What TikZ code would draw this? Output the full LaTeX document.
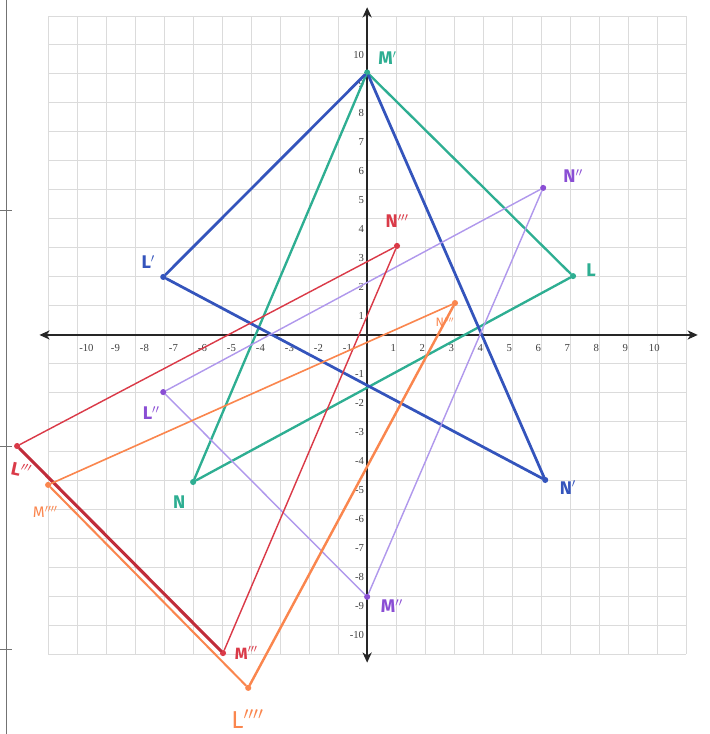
\documentclass[tikz,border=0pt]{standalone}
\usepackage{fontspec}
\setmainfont{Liberation Serif}
\setsansfont{Fira Sans}
\usepackage{tikz}
\usetikzlibrary{arrows.meta,positioning}
\definecolor{tealT}{RGB}{46,174,146}
\definecolor{blueT}{RGB}{52,84,188}
\definecolor{lilacT}{RGB}{176,152,236}
\definecolor{violetT}{RGB}{138,78,212}
\definecolor{redT}{RGB}{218,58,72}
\definecolor{darkredT}{RGB}{192,44,58}
\definecolor{orangeT}{RGB}{250,134,78}

\begin{document}
\begin{tikzpicture}[
    grd/.style={black!14,line width=0.9pt},
    ax/.style={black!85,line width=1.3pt,{Stealth[length=10pt,width=9pt,inset=3pt]}-{Stealth[length=10pt,width=9pt,inset=3pt]}},
    tck/.style={font=\fontsize{10.5}{10.5}\selectfont,text=black!75,inner sep=0pt},
    pt/.style={circle,fill=#1,minimum size=6pt,inner sep=0pt},
    lbl/.style={font=\sffamily\bfseries\fontsize{18}{18}\selectfont,text=#1,inner sep=0pt,on grid},
    tri/.style={line width=#1,line cap=round}]
\useasboundingbox (-12.66,-13.76) rectangle (11.79,11.55);
% graph paper
\draw[grd] (-11,-11) grid (11,11);
% page edge of the scan
\draw[black!55,line width=0.8pt] (-12.45,11.55) -- (-12.45,-13.76);
\foreach \y in {4.31,-3.86,-10.86}
  \draw[black!55,line width=0.8pt] (-12.66,\y) -- (-12.25,\y);
% axes
\coordinate (xl) at (-11.3,0);
\coordinate (xr) at (11.4,0);
\coordinate (yb) at (0,-11.3);
\coordinate (yt) at (0,11.3);
\draw[ax] (xl) -- (xr);
\draw[ax] (yb) -- (yt);
% tick labels
\foreach \i in {1,...,10} {
  \node[tck] (xp\i) at (\i-0.1,-0.45) {\i};
  \node[tck] (xn\i) at (-\i+0.32,-0.45) {-\i};
  \node[tck,anchor=east] (yp\i) at (-0.1,\i-0.35) {\i};
  \node[tck,anchor=east] (yn\i) at (-0.1,-\i-0.35) {-\i};
}
% vertices
\node[pt=tealT]   (M1) at (0,9.05) {};
\node[pt=blueT]   (L1) at (-7.03,2.0) {};
\node[pt=blueT]   (N1) at (6.14,-5.0) {};
\node[pt=tealT]   (L0) at (7.1,2.03) {};
\node[pt=tealT]   (N0) at (-6.0,-5.07) {};
\node[pt=violetT] (N2) at (6.07,5.07) {};
\node[pt=violetT] (M2) at (0,-9.03) {};
\node[pt=violetT] (L2) at (-7.03,-1.97) {};
\node[pt=redT]    (N3) at (1.03,3.07) {};
\node[pt=redT]    (M3) at (-4.97,-10.97) {};
\node[pt=redT]    (L3) at (-12.07,-3.83) {};
\node[pt=orangeT] (M4) at (-11.0,-5.17) {};
\node[pt=orangeT] (N4) at (3.03,1.1) {};
\node[pt=orangeT] (L4) at (-4.1,-12.17) {};
% LMN (teal) and L'M'N' (blue)
\draw[tri=2.3pt,tealT] (M1) -- (L0);
\draw[tri=2.3pt,tealT] (M1) -- (N0);
\draw[tri=2.3pt,tealT] (N0) -- (L0);
\draw[tri=2.7pt,blueT] (M1) -- (L1);
\draw[tri=2.7pt,blueT] (M1) -- (N1);
\draw[tri=2.7pt,blueT] (L1) -- (N1);
% L''M''N'' (lilac)
\draw[tri=1.4pt,lilacT] (L2) -- (N2);
\draw[tri=1.4pt,lilacT] (N2) -- (M2);
\draw[tri=1.4pt,lilacT] (L2) -- (M2);
% L'''M'''N''' (red)
\draw[tri=1.4pt,redT] (L3) -- (N3);
\draw[tri=1.4pt,redT] (N3) -- (M3);
\draw[tri=3pt,darkredT] (L3) -- (M3);
% L''''M''''N'''' (orange)
\draw[tri=1.6pt,orangeT] (M4) -- (N4);
\draw[tri=2.4pt,orangeT] (N4) -- (L4);
\draw[tri=2pt,orangeT] (M4) -- (L4);
% labels
\node[lbl=tealT, above right=0.5 and 0.7 of M1] (tM1) {M$'$};
\node[lbl=blueT, above left=0.52 and 0.52 of L1] (tL1) {L$'$};
\node[lbl=blueT, below right=0.26 and 0.78 of N1] (tN1) {N$'$};
\node[lbl=tealT, above right=0.2 and 0.62 of L0] (tL0) {L};
\node[lbl=tealT, below left=0.69 and 0.48 of N0] (tN0) {N};
\node[lbl=violetT, above right=0.41 and 1.03 of N2] (tN2) {N$''$};
\node[lbl=violetT, below right=0.31 and 0.85 of M2] (tM2) {M$''$};
\node[lbl=violetT, below left=0.72 and 0.42 of L2] (tL2) {L$''$};
\node[lbl=redT, above=0.85 of N3] (tN3) {N$'''$};
\node[lbl=redT, right=0.8 of M3,font=\sffamily\bfseries\fontsize{16}{16}\selectfont] (tM3) {M$'''$};
\node[lbl=redT, below right=0.83 and 0.14 of L3,rotate=-12] (tL3) {L$'''$};
\node[lbl=orangeT, below left=0.93 and 0.1 of M4,font=\sffamily\fontsize{15}{15}\selectfont] (tM4) {M$''''$};
\node[lbl=orangeT, below left=0.66 and 0.35 of N4,font=\sffamily\fontsize{12}{12}\selectfont] (tN4) {N$''''$};
\node[lbl=orangeT, below left=1.07 and 0.03 of L4,font=\sffamily\fontsize{24}{24}\selectfont] (tL4) {L$''''$};
\end{tikzpicture}
\end{document}
